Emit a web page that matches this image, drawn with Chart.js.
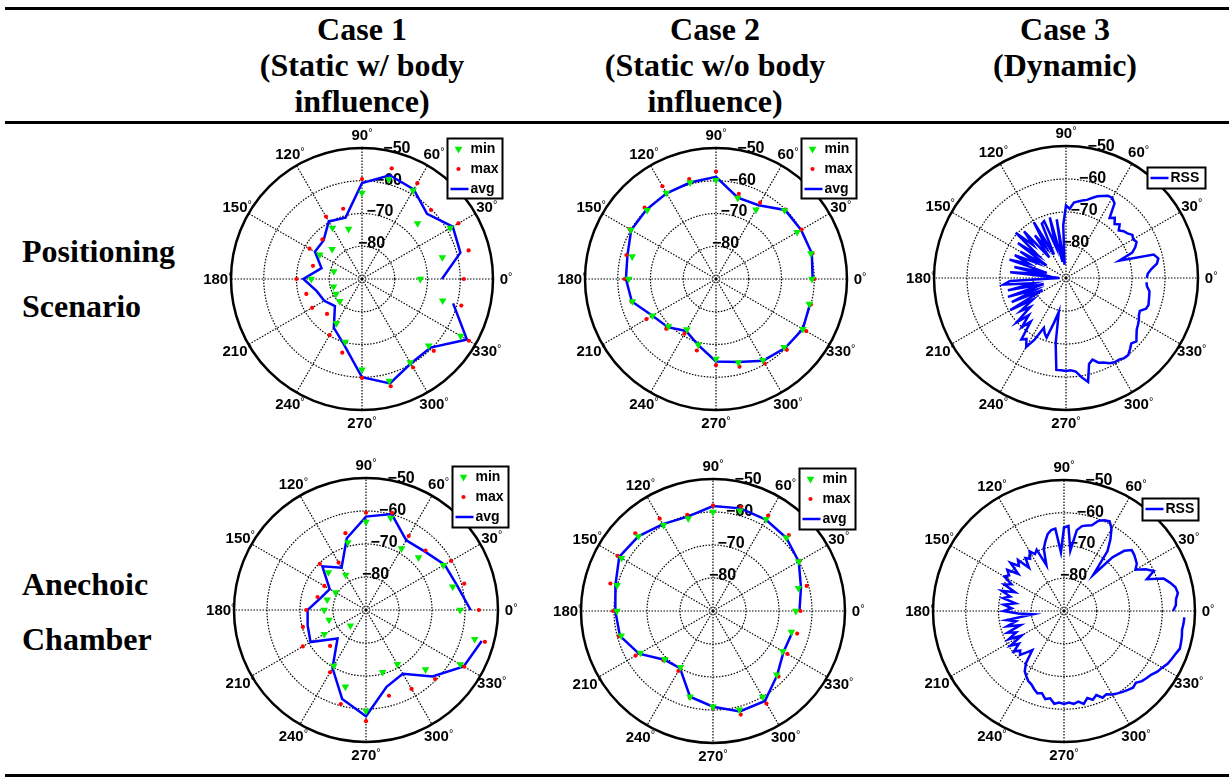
<!DOCTYPE html>
<html>
<head>
<meta charset="utf-8">
<script src="https://cdn.jsdelivr.net/npm/chart.js@4.4.1/dist/chart.umd.min.js"></script>
<style>
  html, body { margin: 0; padding: 0; background: #fff; }
  #page { position: relative; width: 1229px; height: 782px; overflow: hidden;
          font-family: "Liberation Serif", "Times New Roman", serif; color: #000; }
  .rule { position: absolute; left: 5px; width: 1224px; height: 3px; background: #000; }
  .head { position: absolute; width: 340px; text-align: center; font-weight: bold;
          font-size: 32px; line-height: 36px; }
  .rowlab { position: absolute; left: 22px; font-weight: bold; font-size: 32px; line-height: 55px; }
  canvas { position: absolute; }
</style>
</head>
<body>
<div id="page">
  <div class="rule" style="top:7px"></div>
  <div class="rule" style="top:121px"></div>
  <div class="rule" style="top:774px"></div>

  <div class="head" style="left:192px;top:11px">Case 1<br>(Static w/ body<br>influence)</div>
  <div class="head" style="left:545px;top:11px">Case 2<br>(Static w/o body<br>influence)</div>
  <div class="head" style="left:895px;top:11px">Case 3<br>(Dynamic)</div>

  <div class="rowlab" style="top:224px">Positioning<br>Scenario</div>
  <div class="rowlab" style="top:557px">Anechoic<br>Chamber</div>

  <canvas id="pos1" width="330" height="330"></canvas>
  <canvas id="pos2" width="330" height="330"></canvas>
  <canvas id="pos3" width="330" height="330"></canvas>
  <canvas id="anech1" width="330" height="330"></canvas>
  <canvas id="anech2" width="330" height="330"></canvas>
  <canvas id="anech3" width="330" height="330"></canvas>
</div>

<script>
// Measurement angles (degrees, counter-clockwise from 0°)
const angles15 = [0, 15, 30, 45, 60, 75, 90, 105, 120, 135, 150, 165,
                  180, 195, 210, 225, 240, 255, 270, 285, 300, 315, 330, 345];
const angles3 = Array.from({ length: 120 }, (_, i) => i * 3);

// Radial ticks (dBm) and angular tick labels
const ringTicks = [-80, -70, -60, -50];
const angleTicks = [0, 30, 60, 90, 120, 150, 180, 210, 240, 270, 300, 330];

// Positioning scenario, case 1 (static with body influence)
const pos1Min = [-72.2, -64.6, -58.9, -66, -58.8, -58.5, -63.7, -74.2, -72, -77.1, -75.1, -81.1,
                 -74.5, -81, -80.8, -80.4, -74.4, -70.1, -62.3, -57.8, -60.6, -61.2, -55.2, -64.5];
const pos1Max = [-58.9, -56.3, -56, -60.2, -56.2, -55, -59.5, -67.8, -68, -72.9, -71.5, -74.5,
                 -70, -72.4, -72.4, -74.9, -70.2, -66.7, -59.8, -56.1, -58.8, -59, -52.3, -58.6];
const pos1Avg = [-65.6, -58.9, -58, -61.9, -58.4, -57.2, -60.7, -70.6, -69.7, -73.4, -73.4, -77.2,
                 -72.1, -75.7, -76.7, -78.3, -72.8, -69.1, -60, -57, -60.2, -60.4, -53, -61.2];

// Positioning scenario, case 2 (static without body influence)
const pos2Min = [-60.7, -60, -61.4, -60.4, -65.6, -64.4, -59.8, -59.5, -59.7, -60.3, -60, -63.5,
                 -63.3, -63.6, -67.6, -69.5, -72.2, -69.2, -65.6, -63.6, -61.4, -60.6, -59.4, -60.5];
const pos2Max = [-59.9, -59.5, -59.8, -60, -63.1, -63.1, -57.2, -58.4, -57.3, -59.2, -59.6, -61.7,
                 -62.1, -63.3, -65.5, -68.5, -70.7, -67.4, -63.7, -62.3, -60.2, -59.4, -58.2, -60];
const pos2Avg = [-60.5, -59.7, -60, -60.2, -64, -64.3, -58.8, -59.5, -59.8, -60, -60.1, -62,
                 -62.5, -63.4, -67.6, -69.2, -71.7, -69.1, -64.8, -63.8, -61.2, -60.2, -59.4, -60.3];

// Positioning scenario, case 3 (dynamic), RSS every 3°
const pos3Rss = [
  -65.5, -65.2, -64, -62.1, -61.4, -62.5, -73, -68.5, -67, -66,
  -66.5, -66, -67, -67.5, -68.5, -67, -68, -66.5, -67.5, -63,
  -62, -62, -62.8, -63.5, -64.5, -65.5, -66, -66.5, -67, -69,
  -68, -74, -86, -72, -85, -71, -80, -71.5, -72, -82,
  -70.5, -79, -74, -82, -71, -76, -69.5, -79, -72, -83,
  -74, -80, -73, -78, -72, -84, -74, -82, -73, -86,
  -88, -73, -71, -80, -72, -83, -71.5, -80, -72, -82,
  -70.5, -78, -73, -76, -70, -74, -70, -73, -67, -68,
  -65.9, -69, -73.5, -72, -71, -76, -79.5, -70, -62, -62,
  -61.8, -62, -61.5, -59.5, -57.8, -63, -64, -62.5, -62, -61,
  -60.5, -60.5, -60, -60, -61, -62, -61.3, -62.5, -63.5, -64,
  -64.5, -65.2, -65.5, -64, -63.7, -64, -64.2, -64.4, -65.3, -65.6];

// Anechoic chamber, case 1
const anech1Min = [-61.5, -62.8, -62.9, -67.5, -68.5, -61.1, -63.3, -68.8, -77.7, -73.9, -79.4, -77.8,
                   -77.3, -78.4, -75.4, -83.3, -70.5, -65.9, -59.4, -70.5, -71, -64.5, -57, -55.9];
const anech1Max = [-55.8, -59.2, -60.2, -64.5, -64.1, -59.5, -60.5, -65.9, -73.4, -70.2, -75.4, -74.8,
                   -71.9, -70.2, -67.9, -74.6, -68.2, -60.5, -56.3, -63.1, -62.4, -60.4, -55.6, -52.7];
const anech1Avg = [-58.3, -61.4, -62.5, -64.9, -65.6, -59.9, -61.7, -67.5, -75.2, -71.3, -77.3, -75.8,
                   -72.3, -71.7, -70.6, -77.8, -69.7, -62.1, -57.8, -65.9, -67.7, -61.5, -55.8, -53.7];

// Anechoic chamber, case 2
const anech2Min = [-64.9, -63.2, -60, -58.6, -57.9, -58.5, -60, -61, -60, -58, -58, -59.9,
                   -60.9, -61.2, -64.6, -69.3, -70.3, -63.1, -61, -59, -59.9, -62.7, -65.6, -65.4];
const anech2Max = [-63.5, -60.6, -59.6, -57.5, -56.6, -57.3, -58, -59.8, -57.7, -56.7, -56.6, -57.8,
                   -59.7, -60.5, -62.9, -68.8, -69, -62.8, -60.7, -57.5, -57.6, -61.9, -64, -63.6];
const anech2Avg = [-63.8, -62.4, -60, -58.6, -58, -57.8, -58.2, -60.4, -59.6, -58, -57.2, -59.4,
                   -60.4, -60.8, -64.1, -69.1, -70, -63.1, -61, -58.5, -58.5, -62.5, -65.3, -65.1];

// Anechoic chamber, case 3 (dynamic), RSS every 3°
const anech3Rss = [
  -56.7, -55.8, -55.6, -54.8, -55.2, -56.5, -58, -62.9, -60, -62,
  -64.8, -63.5, -63, -62.5, -62.2, -64, -68, -75.7, -67.4, -64,
  -61, -59.3, -59.7, -60.5, -62.5, -63, -63.5, -65, -71.5, -64,
  -64.5, -72, -64.7, -65, -66, -68, -70, -75, -69.5, -70.5,
  -69, -71, -70, -73, -69, -70.5, -68, -72, -68.6, -70,
  -69, -72, -70, -74, -70, -73, -71, -75, -71.5, -74,
  -71.6, -76, -80.5, -72.3, -75, -72, -76, -71.5, -74, -71,
  -75, -70.5, -73, -70.3, -72, -71, -73, -74.6, -70.2, -68,
  -67, -66, -65.5, -64.5, -63.6, -64, -62.5, -63, -61.5, -62,
  -61.6, -62, -61.5, -62, -61, -62.5, -61.5, -62.5, -61, -61.5,
  -60.6, -60, -59.5, -59, -58.5, -59, -58, -57.5, -57, -56,
  -55.4, -54.5, -54, -53.5, -52.8, -53, -53.2, -53.5, -53.3, -53.2];

const GREEN = '#00ee00', RED = '#ff0000', BLUE = '#0000ff';
const SANS = '"Liberation Sans", Arial, sans-serif';
const GRID = '#000';
const DOTS = [1.5, 1.5];

// Draws the MATLAB-style polar annotations: ring values, degree labels and the boxed legend.
const polarDecor = {
  id: 'polarDecor',
  beforeDatasetsDraw(chart) {
    const s = chart.scales.r;
    const ctx = chart.ctx;
    const labels = chart.data.labels;
    ctx.save();
    ctx.fillStyle = '#000';
    ctx.textBaseline = 'middle';
    // ring values along the 75° spoke
    ctx.font = 'bold 16px ' + SANS;
    ctx.textAlign = 'center';
    const k75 = labels.indexOf('75');
    ringTicks.forEach(v => {
      const p = s.getPointPosition(k75, s.getDistanceFromCenterForValue(v));
      ctx.fillText('\u2212' + Math.abs(v), p.x + 1, p.y - 4);
    });
    // degree labels just outside the outer ring
    const R = s.drawingArea * 1.1;
    angleTicks.forEach(t => {
      const p = s.getPointPosition(labels.indexOf(String(t)), R);
      const num = String(t);
      ctx.font = 'bold 15px ' + SANS;
      const w1 = ctx.measureText(num).width;
      ctx.font = '11px ' + SANS;
      const w2 = ctx.measureText('\u00b0').width;
      const x0 = p.x - (w1 + w2) / 2;
      ctx.textAlign = 'left';
      ctx.font = 'bold 15px ' + SANS;
      ctx.fillText(num, x0, p.y + 1);
      ctx.font = '11px ' + SANS;
      ctx.fillText('\u00b0', x0 + w1, p.y - 2);
    });
    ctx.restore();
  },
  afterDraw(chart, args, opts) {
    const box = opts.box;
    if (!box) return;
    const s = chart.scales.r;
    const ctx = chart.ctx;
    const x = Math.round(s.xCenter + box.dx) + 0.5;
    const y = Math.round(s.yCenter + box.dy) + 0.5;
    ctx.save();
    ctx.fillStyle = '#fff';
    ctx.fillRect(x, y, box.w, box.h);
    ctx.strokeStyle = '#000';
    ctx.lineWidth = 2;
    ctx.strokeRect(x, y, box.w, box.h);
    ctx.font = 'bold 14px ' + SANS;
    ctx.textBaseline = 'middle';
    ctx.textAlign = 'left';
    chart.data.datasets.forEach((ds, i) => {
      const cy = y + 10.5 + i * 20;
      if (ds.showLine === false) {
        ctx.fillStyle = ds.pointBackgroundColor;
        Chart.helpers.drawPoint(ctx, {
          pointStyle: ds.pointStyle, rotation: ds.pointRotation || 0,
          radius: ds.pointRadius, borderWidth: 0
        }, x + 11, cy);
      } else {
        ctx.strokeStyle = ds.borderColor;
        ctx.lineWidth = ds.borderWidth;
        ctx.beginPath();
        ctx.moveTo(x + 3, cy);
        ctx.lineTo(x + 21, cy);
        ctx.stroke();
      }
      ctx.fillStyle = '#000';
      ctx.fillText(ds.label, x + 23, cy + 0.5);
    });
    ctx.restore();
  }
};

function minSet(values) {
  return { label: 'min', values, showLine: false, pointStyle: 'triangle', pointRotation: 180,
           pointRadius: 4.4, pointBackgroundColor: GREEN, pointBorderColor: GREEN, pointBorderWidth: 0 };
}
function maxSet(values) {
  return { label: 'max', values, showLine: false, pointStyle: 'circle',
           pointRadius: 2.1, pointBackgroundColor: RED, pointBorderColor: RED, pointBorderWidth: 0 };
}
function lineSet(label, values) {
  return { label, values, line: true, borderColor: BLUE, borderWidth: 2.5, pointRadius: 0 };
}

// Radar charts run clockwise from the top; the series is reversed so that angles grow
// counter-clockwise from 0° on the right, and a trailing gap keeps each trace open.
function polarPlot(id, cx, cy, R, angles, sets, box) {
  const canvas = document.getElementById(id);
  const half = canvas.width / 2;
  canvas.style.left = (cx - half) + 'px';
  canvas.style.top = (cy - half) + 'px';
  const M = angles.length;
  const order = angles.map((_, k) => M - 1 - k);
  const labels = order.map(j => String(angles[j]));
  const datasets = sets.map(s => {
    const data = order.map(j => s.values[j]);
    if (s.line) data.push(null);
    const ds = Object.assign({}, s, { data, fill: false, tension: 0, spanGaps: false,
                                      backgroundColor: 'transparent' });
    delete ds.values; delete ds.line;
    return ds;
  });
  const isOuter = c => c.tick && c.tick.value === -50;
  return new Chart(canvas, {
    type: 'radar',
    data: { labels, datasets },
    options: {
      responsive: false,
      animation: false,
      events: [],
      layout: { padding: half - R },
      plugins: { legend: { display: false }, tooltip: { enabled: false }, polarDecor: { box } },
      scales: {
        r: {
          min: -90, max: -50,
          startAngle: 90 - angles[M - 1],
          ticks: { display: false, stepSize: 10 },
          pointLabels: { display: false },
          grid: {
            circular: true,
            color: GRID,
            lineWidth: c => isOuter(c) ? 2.5 : 1.2
          },
          border: { dash: c => isOuter(c) ? [] : DOTS },
          angleLines: {
            display: true,
            color: GRID,
            lineWidth: c => (Number(c.label) % 30 === 0 ? 1.2 : 0),
            borderDash: DOTS
          }
        }
      }
    },
    plugins: [polarDecor]
  });
}

const statBox = { dx: 85, dy: -141, w: 55, h: 60 };
polarPlot('pos1', 362, 279, 131, angles15,
  [minSet(pos1Min), maxSet(pos1Max), lineSet('avg', pos1Avg)], statBox);
polarPlot('pos2', 716, 279, 131, angles15,
  [minSet(pos2Min), maxSet(pos2Max), lineSet('avg', pos2Avg)], statBox);
polarPlot('pos3', 1066, 278, 132, angles3,
  [lineSet('RSS', pos3Rss)], { dx: 81, dy: -111, w: 58, h: 21 });
polarPlot('anech1', 366, 610, 132, angles15,
  [minSet(anech1Min), maxSet(anech1Max), lineSet('avg', anech1Avg)], { dx: 86, dy: -144, w: 56, h: 61 });
polarPlot('anech2', 713, 611, 132, angles15,
  [minSet(anech2Min), maxSet(anech2Max), lineSet('avg', anech2Avg)], { dx: 86, dy: -143, w: 56, h: 61 });
polarPlot('anech3', 1064, 611, 131, angles3,
  [lineSet('RSS', anech3Rss)], { dx: 78, dy: -113, w: 56, h: 22 });
</script>
</body>
</html>
